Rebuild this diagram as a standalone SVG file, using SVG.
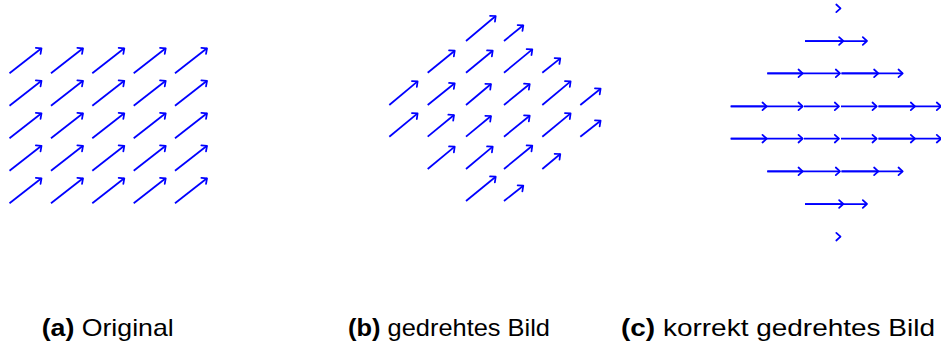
<svg xmlns="http://www.w3.org/2000/svg" width="941" height="347" viewBox="0 0 941 347">
<style>
.ar{stroke:#0000ff;stroke-width:1.75;fill:none;marker-end:url(#ah);}
.lbl{font-family:"Liberation Sans",Arial,sans-serif;font-size:24px;fill:#000;}
.b{font-weight:bold;}
</style>
<defs>
<marker id="ah" markerUnits="userSpaceOnUse" orient="auto" viewBox="-6 -6 8 12" markerWidth="8" markerHeight="12" refX="0" refY="0">
<path d="M-4.2,-3.8 L0,0 L-4.2,3.8" fill="none" stroke="#0000ff" stroke-width="1.75" stroke-linecap="round" stroke-linejoin="round"/>
</marker>
</defs>
<rect width="941" height="347" fill="#fff"/>
<g id="panel-a">
<g id="a-row1">
<line class="ar" x1="9.5" y1="73.3" x2="41.5" y2="48.3"/>
<line class="ar" x1="51" y1="73.3" x2="83" y2="48.3"/>
<line class="ar" x1="92.3" y1="73.3" x2="124.3" y2="48.3"/>
<line class="ar" x1="133.7" y1="73.3" x2="165.7" y2="48.3"/>
<line class="ar" x1="175" y1="73.3" x2="207" y2="48.3"/>
</g>
<g id="a-row2">
<line class="ar" x1="9.5" y1="105.8" x2="41.5" y2="80.8"/>
<line class="ar" x1="51" y1="105.8" x2="83" y2="80.8"/>
<line class="ar" x1="92.3" y1="105.8" x2="124.3" y2="80.8"/>
<line class="ar" x1="133.7" y1="105.8" x2="165.7" y2="80.8"/>
<line class="ar" x1="175" y1="105.8" x2="207" y2="80.8"/>
</g>
<g id="a-row3">
<line class="ar" x1="9.5" y1="138.3" x2="41.5" y2="113.3"/>
<line class="ar" x1="51" y1="138.3" x2="83" y2="113.3"/>
<line class="ar" x1="92.3" y1="138.3" x2="124.3" y2="113.3"/>
<line class="ar" x1="133.7" y1="138.3" x2="165.7" y2="113.3"/>
<line class="ar" x1="175" y1="138.3" x2="207" y2="113.3"/>
</g>
<g id="a-row4">
<line class="ar" x1="9.5" y1="170.8" x2="41.5" y2="145.8"/>
<line class="ar" x1="51" y1="170.8" x2="83" y2="145.8"/>
<line class="ar" x1="92.3" y1="170.8" x2="124.3" y2="145.8"/>
<line class="ar" x1="133.7" y1="170.8" x2="165.7" y2="145.8"/>
<line class="ar" x1="175" y1="170.8" x2="207" y2="145.8"/>
</g>
<g id="a-row5">
<line class="ar" x1="9.5" y1="203.3" x2="41.5" y2="178.3"/>
<line class="ar" x1="51" y1="203.3" x2="83" y2="178.3"/>
<line class="ar" x1="92.3" y1="203.3" x2="124.3" y2="178.3"/>
<line class="ar" x1="133.7" y1="203.3" x2="165.7" y2="178.3"/>
<line class="ar" x1="175" y1="203.3" x2="207" y2="178.3"/>
</g>
</g>
<g id="panel-b">
<line class="ar" x1="466" y1="41" x2="495.7" y2="16"/>
<line class="ar" x1="504" y1="41" x2="523.3" y2="25.3"/>
<line class="ar" x1="427.7" y1="72.7" x2="454.7" y2="50.7"/>
<line class="ar" x1="466" y1="72.7" x2="492.7" y2="50.7"/>
<line class="ar" x1="504" y1="72.7" x2="532.3" y2="49.4"/>
<line class="ar" x1="542.3" y1="72.7" x2="560.3" y2="58.4"/>
<line class="ar" x1="389.3" y1="105" x2="417.6" y2="81.3"/>
<line class="ar" x1="427.7" y1="105" x2="454.7" y2="83.3"/>
<line class="ar" x1="466" y1="105" x2="491" y2="84"/>
<line class="ar" x1="504" y1="105" x2="529.7" y2="84"/>
<line class="ar" x1="542.3" y1="105" x2="570.6" y2="81.3"/>
<line class="ar" x1="580.3" y1="105" x2="600.6" y2="88.7"/>
<line class="ar" x1="389.3" y1="136.7" x2="417.6" y2="113.4"/>
<line class="ar" x1="427.7" y1="136.7" x2="454" y2="115"/>
<line class="ar" x1="466" y1="136.7" x2="491" y2="116"/>
<line class="ar" x1="504" y1="136.7" x2="529.7" y2="115.7"/>
<line class="ar" x1="542.3" y1="136.7" x2="570.6" y2="113.4"/>
<line class="ar" x1="580.3" y1="136.7" x2="600.6" y2="120.7"/>
<line class="ar" x1="427.7" y1="169" x2="454.7" y2="146.7"/>
<line class="ar" x1="466" y1="169" x2="492.7" y2="146.7"/>
<line class="ar" x1="504" y1="169" x2="532.3" y2="145.7"/>
<line class="ar" x1="542.3" y1="169" x2="560.3" y2="154"/>
<line class="ar" x1="466" y1="201" x2="495.7" y2="176.7"/>
<line class="ar" x1="504" y1="201" x2="523.3" y2="185.7"/>
</g>
<g id="panel-c">
<line class="ar" x1="840" y1="8.3" x2="840.5" y2="8.3"/>
<line class="ar" x1="805" y1="41" x2="843.3" y2="41"/>
<line class="ar" x1="805" y1="41" x2="867" y2="41"/>
<line class="ar" x1="767.3" y1="73.3" x2="802.7" y2="73.3"/>
<line class="ar" x1="767.3" y1="73.3" x2="840" y2="73.3"/>
<line class="ar" x1="841.5" y1="73.3" x2="878.3" y2="73.3"/>
<line class="ar" x1="841.5" y1="73.3" x2="902.7" y2="73.3"/>
<line class="ar" x1="730.7" y1="106.3" x2="766.7" y2="106.3"/>
<line class="ar" x1="730.7" y1="106.3" x2="802.7" y2="106.3"/>
<line class="ar" x1="804" y1="106.3" x2="839" y2="106.3"/>
<line class="ar" x1="841" y1="106.3" x2="876.7" y2="106.3"/>
<line class="ar" x1="878.5" y1="106.3" x2="915" y2="106.3"/>
<line class="ar" x1="878.5" y1="106.3" x2="941" y2="106.3"/>
<line class="ar" x1="730.7" y1="138.7" x2="766.7" y2="138.7"/>
<line class="ar" x1="730.7" y1="138.7" x2="802.7" y2="138.7"/>
<line class="ar" x1="804" y1="138.7" x2="839" y2="138.7"/>
<line class="ar" x1="841" y1="138.7" x2="876.7" y2="138.7"/>
<line class="ar" x1="878.5" y1="138.7" x2="915" y2="138.7"/>
<line class="ar" x1="878.5" y1="138.7" x2="941" y2="138.7"/>
<line class="ar" x1="767.3" y1="171.3" x2="802.7" y2="171.3"/>
<line class="ar" x1="767.3" y1="171.3" x2="840" y2="171.3"/>
<line class="ar" x1="841.5" y1="171.3" x2="878.3" y2="171.3"/>
<line class="ar" x1="841.5" y1="171.3" x2="902.7" y2="171.3"/>
<line class="ar" x1="805" y1="204" x2="843.3" y2="204"/>
<line class="ar" x1="805" y1="204" x2="867" y2="204"/>
<line class="ar" x1="840" y1="236.7" x2="840.5" y2="236.7"/>
</g>
<g id="labels">
<text class="lbl" x="41.7" y="335.5" textLength="132" lengthAdjust="spacingAndGlyphs"><tspan class="b">(a)</tspan> Original</text>
<text class="lbl" x="348" y="335.5" textLength="202" lengthAdjust="spacingAndGlyphs"><tspan class="b">(b)</tspan> gedrehtes Bild</text>
<text class="lbl" x="621" y="335.5" textLength="314" lengthAdjust="spacingAndGlyphs"><tspan class="b">(c)</tspan> korrekt gedrehtes Bild</text>
</g>
</svg>
